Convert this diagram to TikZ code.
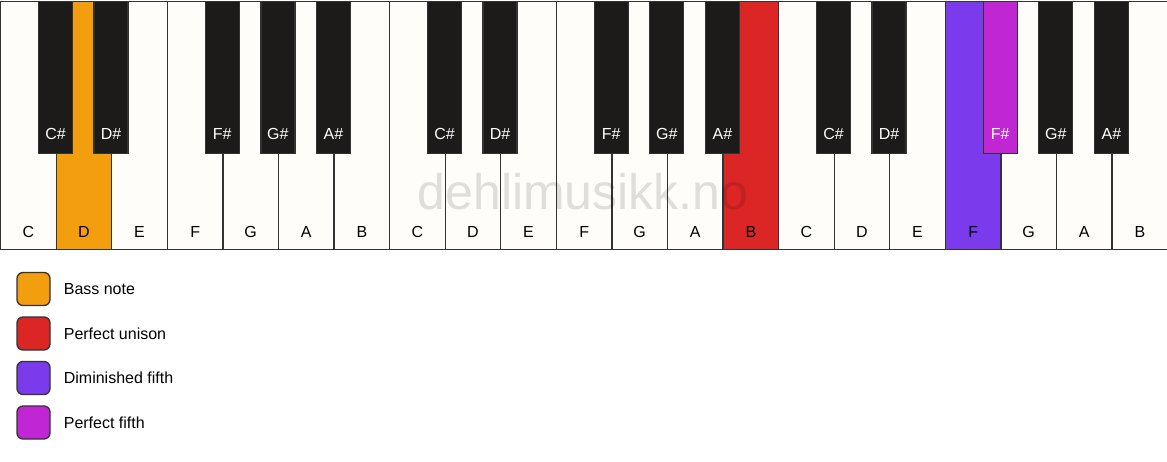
\documentclass[tikz,border=0pt]{standalone}
\usepackage{fontspec}
\setmainfont{Liberation Sans}
\usetikzlibrary{positioning}

\definecolor{keywhite}{HTML}{FFFDFA}
\definecolor{keyblack}{HTML}{1C1B1A}
\definecolor{keyline}{HTML}{333333}
\definecolor{bassnote}{HTML}{F39E0E}
\definecolor{unison}{HTML}{DC2626}
\definecolor{dimfifth}{HTML}{7C3AED}
\definecolor{perffifth}{HTML}{C026D3}

\begin{document}
\begin{tikzpicture}[x=1pt,y=-1pt,
    whitekey/.style={draw=keyline,line width=1.3pt,minimum width=55.57pt,minimum height=248pt,inner sep=0pt,anchor=north west},
    blackkey/.style={draw=keyline,line width=1.3pt,minimum width=34pt,minimum height=152pt,inner sep=0pt,anchor=north},
    keyname/.style={font=\fontsize{16}{19}\selectfont,anchor=base,inner sep=0pt},
    swatch/.style={draw=keyline,line width=1.3pt,rounded corners=6pt,minimum size=33pt,inner sep=0pt},
    legendtext/.style={font=\fontsize{16}{19}\selectfont,inner sep=0pt,text height=11.5pt,text depth=0pt}]
    \useasboundingbox (0,0) rectangle (1167,461);
    % white keys
    \foreach \n/\c [count=\i from 0] in {C/keywhite,D/bassnote,E/keywhite,F/keywhite,G/keywhite,A/keywhite,B/keywhite,
        C/keywhite,D/keywhite,E/keywhite,F/keywhite,G/keywhite,A/keywhite,B/unison,
        C/keywhite,D/keywhite,E/keywhite,F/dimfifth,G/keywhite,A/keywhite,B/keywhite} {
        \node[whitekey,fill=\c] (w\i) at (\i*55.57,0.7) {};
        \node[keyname,yshift=13pt] (wn\i) at (w\i.south) {\n};
    }
    % black keys
    \foreach \k/\n/\c in {1/C/keyblack,2/D/keyblack,4/F/keyblack,5/G/keyblack,6/A/keyblack,
        8/C/keyblack,9/D/keyblack,11/F/keyblack,12/G/keyblack,13/A/keyblack,
        15/C/keyblack,16/D/keyblack,18/F/perffifth,19/G/keyblack,20/A/keyblack} {
        \node[blackkey,fill=\c] (b\k) at (\k*55.57,0.7) {};
        \node[keyname,text=white,yshift=14.5pt] (bn\k) at (b\k.south) {\n\#};
    }
    \node[font=\fontsize{50}{58}\selectfont,text=black,opacity=0.12] (mark) at (583,192) {dehlimusikk.no};
    % legend
    \node[swatch,fill=bassnote] (s1) at (33.5,289) {};
    \node[swatch,fill=unison,below=10.2pt of s1] (s2) {};
    \node[swatch,fill=dimfifth,below=10.2pt of s2] (s3) {};
    \node[swatch,fill=perffifth,below=10.2pt of s3] (s4) {};
    \node[legendtext,right=13pt of s1] (t1) {Bass note};
    \node[legendtext,right=13pt of s2] (t2) {Perfect unison};
    \node[legendtext,right=13pt of s3] (t3) {Diminished fifth};
    \node[legendtext,right=13pt of s4] (t4) {Perfect fifth};
\end{tikzpicture}
\end{document}
